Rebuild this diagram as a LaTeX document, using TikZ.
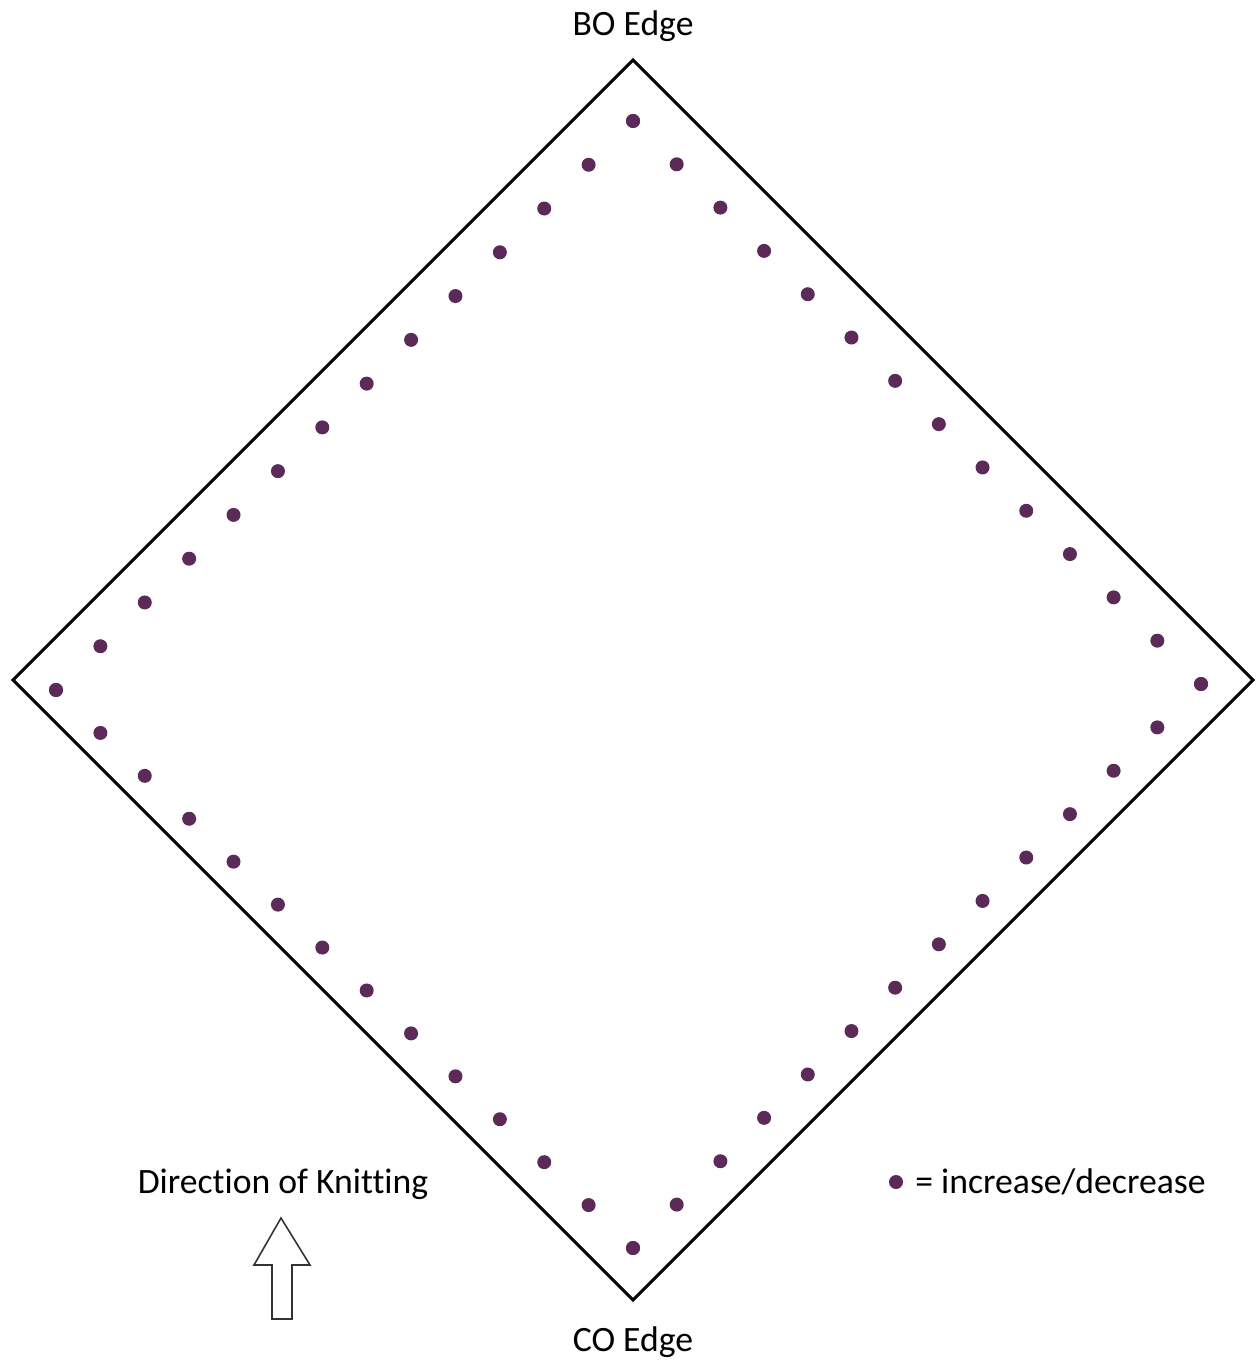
\documentclass[tikz,border=0pt]{standalone}
\usepackage{fontspec}
\setmainfont{Carlito}[Ligatures=CommonOff]
\usetikzlibrary{calc}

\begin{document}
\begin{tikzpicture}[
                    x=0.02cm, y=-0.02cm,
                    edgelabel/.style = {
                        font=\fontsize{20.3}{24}\selectfont, inner sep=0pt
                    },
                    stitch/.style = {
                        fill=stitchcolor
                    }
                ]
                    % Colours
                    \definecolor{stitchcolor}{HTML}{5C2A58}

                    \useasboundingbox (0,0) rectangle (1256,1364);

                    % Corners of the square
                    \coordinate (N) at (633,60);
                    \coordinate (W) at (13,680);
                    \coordinate (E) at (1253,680);
                    \coordinate (S) at (633,1300);

                    % Corner stitches
                    \coordinate (dN) at (633,121);
                    \coordinate (dW) at (56,690);
                    \coordinate (dE) at (1201,684);
                    \coordinate (dS) at (633,1248);

                    % Square
                    \draw[line width=1.7pt, line join=miter] (N) -- (E) -- (S) -- (W) -- cycle;

                    % Stitches along the four sides
                    \foreach \a/\b in {dN/dW, dN/dE, dW/dS, dE/dS}{
                        \foreach \i in {0,...,13}{
                            \fill[stitch] ($(\a)!\i/13!(\b)$) circle (7);
                        }
                    }

                    % Labels
                    \node[edgelabel] (bo) at (633,26) {BO Edge};
                    \node[edgelabel] (co) at (633,1342) {CO Edge};
                    \node[edgelabel] (dir) at (283,1184) {Direction of Knitting};

                    % Legend
                    \fill[stitch] (896,1182) circle (7) coordinate (key);
                    \node[edgelabel, anchor=west] (keytext) at (915,1182) {= increase/decrease};

                    % Arrow
                    \draw[line width=0.9pt, draw=black!80, line join=miter]
                        (281,1218) -- (310,1265) -- (292,1265) -- (292,1319)
                        -- (272,1319) -- (272,1265) -- (254,1265) -- cycle;
                \end{tikzpicture}
\end{document}
